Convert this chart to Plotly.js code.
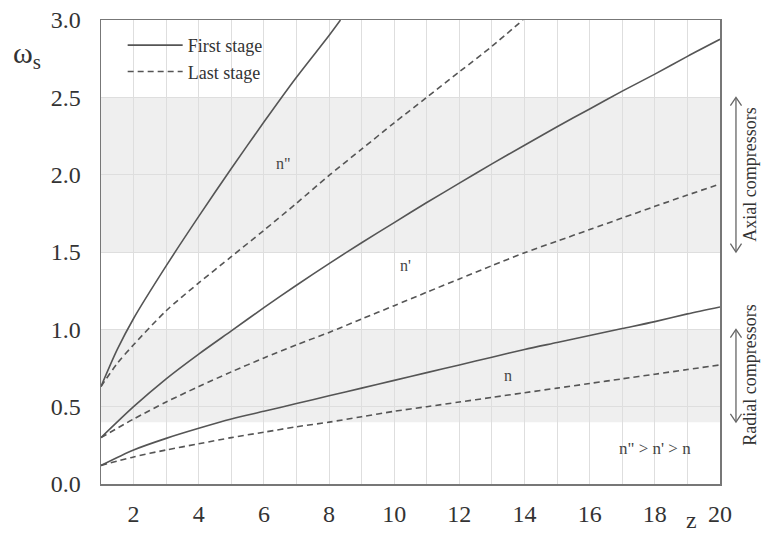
<!DOCTYPE html>
<html>
<head>
<meta charset="utf-8">
<script src="https://cdn.plot.ly/plotly-3.0.1.min.js"></script>
<style>html,body{margin:0;padding:0;background:#fff;}#chart{width:761px;height:536px;}</style>
</head>
<body>
<div id="chart"></div>
<script>
// ---- data ----
const zInt = [1,2,3,4,5,6,7,8,9,10,11,12,13,14,15,16,17,18,19,20];

const nppFirstZ = [1,1.5,2,3,4,5,6,7,8,8.35];
const nppFirst  = [0.63,0.87,1.07,1.41,1.73,2.04,2.34,2.63,2.90,3.0];

const nppLastZ = [1,1.5,2,3,4,5,6,7,8,9,10,11,12,13,13.95];
const nppLast  = [0.63,0.78,0.90,1.12,1.30,1.47,1.64,1.815,1.995,2.165,2.335,2.50,2.665,2.83,3.0];

const npFirst = [0.30,0.50,0.68,0.84,0.99,1.14,1.285,1.425,1.56,1.69,1.82,1.945,2.07,2.19,2.31,2.425,2.54,2.65,2.765,2.875];
const npLast  = [0.30,0.42,0.53,0.63,0.725,0.815,0.90,0.98,1.067,1.153,1.24,1.326,1.412,1.495,1.57,1.645,1.72,1.795,1.868,1.94];

const nFirst = [0.12,0.22,0.295,0.36,0.42,0.47,0.52,0.57,0.62,0.67,0.72,0.77,0.82,0.87,0.915,0.96,1.005,1.05,1.10,1.145];
const nLast  = [0.12,0.175,0.22,0.26,0.30,0.335,0.37,0.40,0.435,0.47,0.50,0.53,0.56,0.59,0.62,0.65,0.68,0.71,0.74,0.77];

const legendNames = ["First stage", "Last stage"];
const curveLabels = ["n\"", "n'", "n", "n\" > n' > n"];
const bandNames = ["Axial compressors", "Radial compressors"];
const axialBand = [1.5, 2.5];
const radialBand = [0.4, 1.0];
const xTicks = [2,4,6,8,10,12,14,16,18,20];
const yTicks = [0,0.5,1,1.5,2,2.5,3];

// ---- styles ----
const lineColor = '#555555';
const serif = '"Liberation Serif", "Times New Roman", serif';
const solid = {color: lineColor, width: 1.6, shape: 'spline', smoothing: 0.8};
const dashed = {color: lineColor, width: 1.6, dash: '6px,4px', shape: 'spline', smoothing: 0.8};

const traces = [
  {x: nppFirstZ, y: nppFirst, mode: 'lines', line: solid, name: legendNames[0], legendgroup: 'f', showlegend: true},
  {x: nppLastZ, y: nppLast, mode: 'lines', line: dashed, name: legendNames[1], legendgroup: 'l', showlegend: true},
  {x: zInt, y: npFirst, mode: 'lines', line: solid, name: legendNames[0], legendgroup: 'f', showlegend: false},
  {x: zInt, y: npLast, mode: 'lines', line: dashed, name: legendNames[1], legendgroup: 'l', showlegend: false},
  {x: zInt, y: nFirst, mode: 'lines', line: solid, name: legendNames[0], legendgroup: 'f', showlegend: false},
  {x: zInt, y: nLast, mode: 'lines', line: dashed, name: legendNames[1], legendgroup: 'l', showlegend: false}
];

// double arrows with open chevron heads (paper coords; y paper = value/3)
function doubleArrow(y0, y1) {
  const ax = 1.0258, hw = 0.009, hh = 0.018;
  const p0 = y0 / 3, p1 = y1 / 3;
  const st = {color: '#666666', width: 1.3};
  return [
    {type: 'line', xref: 'paper', yref: 'paper', x0: ax, x1: ax, y0: p0 + 0.002, y1: p1 - 0.002, line: st},
    {type: 'path', xref: 'paper', yref: 'paper', path: `M ${ax-hw} ${p1-hh} L ${ax} ${p1} L ${ax+hw} ${p1-hh}`, line: st},
    {type: 'path', xref: 'paper', yref: 'paper', path: `M ${ax-hw} ${p0+hh} L ${ax} ${p0} L ${ax+hw} ${p0+hh}`, line: st}
  ];
}

const shapes = [
  {type: 'rect', xref: 'paper', yref: 'y', x0: 0, x1: 1, y0: axialBand[0], y1: axialBand[1], fillcolor: '#efefef', line: {width: 0}, layer: 'below'},
  {type: 'rect', xref: 'paper', yref: 'y', x0: 0, x1: 1, y0: radialBand[0], y1: radialBand[1], fillcolor: '#efefef', line: {width: 0}, layer: 'below'}
].concat(doubleArrow(axialBand[0], axialBand[1])).concat(doubleArrow(radialBand[0], radialBand[1]));

const txtFont = {family: serif, size: 16, color: '#444'};
const C = {xanchor: 'center', yanchor: 'middle', showarrow: false};
const annotations = [
  Object.assign({x: 6.6, y: 2.07, xref: 'x', yref: 'y', text: curveLabels[0], font: txtFont}, C),
  Object.assign({x: 10.36, y: 1.41, xref: 'x', yref: 'y', text: curveLabels[1], font: txtFont}, C),
  Object.assign({x: 13.5, y: 0.70, xref: 'x', yref: 'y', text: curveLabels[2], font: txtFont}, C),
  Object.assign({x: 18.0, y: 0.23, xref: 'x', yref: 'y', text: curveLabels[3], font: {family: serif, size: 17, color: '#444'}}, C),
  Object.assign({x: 1.0485, y: 2.0 / 3, xref: 'paper', yref: 'paper', text: bandNames[0], textangle: -90,
   font: {family: serif, size: 18, color: '#333'}}, C),
  Object.assign({x: 1.0485, y: 0.70 / 3, xref: 'paper', yref: 'paper', text: bandNames[1], textangle: -90,
   font: {family: serif, size: 18, color: '#333'}}, C),
  Object.assign({x: -0.12, y: 0.925, xref: 'paper', yref: 'paper', text: 'ω<sub>s</sub>',
   font: {family: serif, size: 30, color: '#333'}}, C),
  Object.assign({x: 19.14, y: -0.0776, xref: 'x', yref: 'paper', text: 'z',
   font: {family: serif, size: 24, color: '#333'}}, C)
];

const layout = {
  width: 761, height: 536,
  margin: {l: 101, r: 41, t: 20, b: 52},
  paper_bgcolor: '#ffffff', plot_bgcolor: 'rgba(0,0,0,0)',
  font: {family: serif, color: '#333'},
  showlegend: true,
  legend: {x: 0.035, y: 0.985, xanchor: 'left', yanchor: 'top', bgcolor: 'rgba(0,0,0,0)',
           itemwidth: 55, font: {family: serif, size: 18, color: '#333'}, tracegroupgap: 0},
  xaxis: {
    range: [1, 20], tickvals: xTicks, ticktext: xTicks.map(String),
    showgrid: true, gridcolor: '#dedede', gridwidth: 1,
    minor: {dtick: 1, tick0: 0, showgrid: true, gridcolor: '#dedede', gridwidth: 1},
    showline: true, linecolor: '#777', linewidth: 1.5, mirror: true,
    ticks: '', ticklabelstandoff: 8, tickfont: {family: serif, size: 24, color: '#333'},
    zeroline: false, fixedrange: true
  },
  yaxis: {
    range: [0, 3], tickvals: yTicks, tickformat: '.1f',
    showgrid: true, gridcolor: '#dedede', gridwidth: 1,
    showline: true, linecolor: '#777', linewidth: 1.5, mirror: true,
    ticks: '', ticklabelstandoff: 14, tickfont: {family: serif, size: 24, color: '#333'},
    zeroline: false, fixedrange: true
  },
  shapes: shapes,
  annotations: annotations
};

Plotly.newPlot('chart', traces, layout, {displayModeBar: false, staticPlot: true});
</script>
</body>
</html>
